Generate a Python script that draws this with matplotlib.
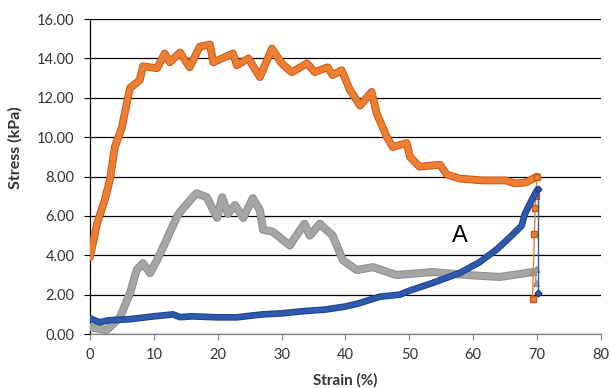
import matplotlib
matplotlib.use("Agg")
import matplotlib.pyplot as plt
import matplotlib.patheffects as pe

plt.rcParams['font.family'] = ['Lato', 'DejaVu Sans']

# Orange series (loading)
orange_x = [0, 1.1, 2.3, 3.1, 3.9, 5.0, 6.0, 6.3, 7.8, 8.3, 10.5, 11.7, 12.5, 14.1, 15.6, 17.2,
            18.8, 19.3, 22.4, 23.0, 24.8, 26.6, 28.5, 30.0, 31.6, 34.0, 35.2, 37.2, 38.0, 39.4,
            40.7, 42.3, 44.1, 44.9, 46.5, 47.4, 49.6, 50.1, 51.6, 54.8, 55.9, 57.9, 61.5, 65.2,
            66.5, 68.3, 70.0]
orange_y = [3.9, 5.6, 6.8, 7.8, 9.5, 10.5, 12.1, 12.5, 12.9, 13.6, 13.5, 14.25, 13.8, 14.3, 13.55, 14.6,
            14.7, 13.8, 14.25, 13.65, 14.0, 13.05, 14.5, 13.75, 13.3, 13.75, 13.3, 13.55, 13.15, 13.4,
            12.4, 11.6, 12.3, 11.2, 10.0, 9.5, 9.7, 9.0, 8.5, 8.6, 8.1, 7.9, 7.8, 7.8,
            7.65, 7.7, 8.0]
# Orange series (drop at end)
orange_end_x = [70.0, 69.8, 69.7, 69.6, 69.3]
orange_end_y = [8.0, 7.0, 6.4, 5.1, 1.8]

# Blue series
blue_x = [0, 1.5, 3, 6, 10, 13, 14.1, 16, 20, 23, 27, 30, 33, 37, 40, 42, 45.4, 48.5, 50,
          53.7, 57.9, 61.0, 63.7, 65.7, 67.6, 68.1, 69.4, 70.1]
blue_y = [0.8, 0.6, 0.7, 0.75, 0.9, 1.0, 0.86, 0.9, 0.85, 0.85, 1.0, 1.05, 1.15, 1.25, 1.4, 1.55, 1.9, 2.0, 2.2,
          2.6, 3.1, 3.65, 4.3, 4.9, 5.5, 6.1, 6.95, 7.35]
blue_end_x = [70.1, 70.1]
blue_end_y = [7.35, 2.1]

# Gray series
gray_x = [0, 2.6, 4.7, 6.3, 7.3, 8.3, 9.4, 10.5, 12.0, 13.6, 14.1, 16.1, 16.7, 18.3, 19.9, 20.7,
          21.6, 22.7, 24.0, 25.5, 26.6, 27.1, 28.6, 31.3, 32.1, 33.6, 34.4, 36.0, 38.0, 39.6,
          41.8, 44.3, 48.0, 53.7, 59.0, 64.2, 69.3]
gray_y = [0.35, 0.2, 0.85, 2.1, 3.25, 3.6, 3.1, 3.75, 4.8, 5.95, 6.2, 6.95, 7.15, 6.95, 5.9, 6.95,
          6.1, 6.55, 5.9, 6.9, 6.3, 5.3, 5.2, 4.5, 4.9, 5.6, 5.0, 5.6, 5.0, 3.75,
          3.25, 3.4, 3.0, 3.15, 3.0, 2.9, 3.15]
gray_end_x = [69.3, 69.8, 69.8]
gray_end_y = [3.15, 3.3, 2.6]

x_ticks = [0, 10, 20, 30, 40, 50, 60, 70, 80]
y_ticks = [0, 2, 4, 6, 8, 10, 12, 14, 16]

c_orange = '#ED7D31'
c_blue = '#2E5AAC'
c_gray = '#A5A5A5'

fig = plt.figure(figsize=(6.1, 3.88), dpi=100)
ax = fig.add_axes([0.1475, 0.139, 0.8375, 0.812])

def thick(edge, lw):
    return [pe.Stroke(linewidth=lw + 1.4, foreground=edge), pe.Normal()]

ax.plot(gray_x, gray_y, color=c_gray, lw=4.4, solid_joinstyle='round', solid_capstyle='round',
        path_effects=thick('#8C8C8C', 4.4), zorder=3)
ax.plot(gray_end_x, gray_end_y, color=c_gray, lw=1.2, marker='^', ms=4, mec='#8F8F8F', zorder=3)
ax.plot(orange_x, orange_y, color=c_orange, lw=4.2, solid_joinstyle='round', solid_capstyle='round',
        path_effects=thick('#C9581A', 4.2), zorder=4)
ax.plot(orange_end_x, orange_end_y, color=c_orange, lw=1.0, marker='s', ms=4, mec='#C55A11', zorder=4)
ax.plot(blue_x, blue_y, color=c_blue, lw=3.4, solid_joinstyle='round', solid_capstyle='round',
        path_effects=thick('#1E3F8C', 3.4), zorder=5)
ax.plot(blue_end_x, blue_end_y, color=c_blue, lw=1.0, marker='D', ms=3.5, mec='#1F3F8A', zorder=5)

ax.text(57.9, 5.0, 'A', fontsize=17, ha='center', va='center', color='black',
        family=['Liberation Sans', 'DejaVu Sans'])

ax.set_xlim(0, 80)
ax.set_ylim(0, 16)
ax.set_xticks(x_ticks)
ax.set_yticks(y_ticks)
ax.set_yticklabels([f'{v:.2f}' for v in y_ticks])
ax.tick_params(axis='both', labelsize=10.5, length=4, width=0.8, direction='out')
ax.tick_params(axis='y', color='black', pad=7)
ax.tick_params(axis='x', color='#808080', pad=6)
for lab in ax.get_xticklabels() + ax.get_yticklabels():
    lab.set_color('#333333')

ax.yaxis.grid(True, color='black', lw=0.9)
ax.set_axisbelow(True)
ax.spines['top'].set_visible(False)
ax.spines['right'].set_visible(False)
ax.spines['left'].set_color('black')
ax.spines['left'].set_linewidth(0.9)
ax.spines['bottom'].set_color('#808080')
ax.spines['bottom'].set_linewidth(0.9)

fig.text(0.5655, 0.02, 'Strain (%)', fontsize=11, fontweight='bold', color='#333333',
         ha='center', va='center')
fig.text(0.025, 0.619, 'Stress (kPa)', fontsize=11.5, fontweight='bold', color='#333333',
         ha='center', va='center', rotation=90)

fig.savefig('out.png', dpi=100)
